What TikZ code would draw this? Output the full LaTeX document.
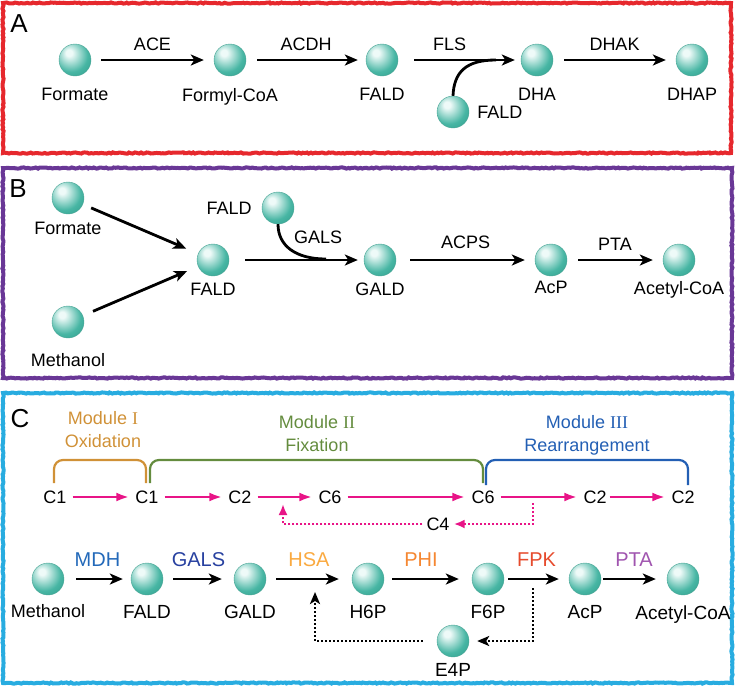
\documentclass[tikz,border=0pt]{standalone}
\usepackage{fontspec}
\setmainfont{Liberation Sans}
\newfontfamily\romfont{Liberation Serif}
\usetikzlibrary{positioning, arrows.meta, decorations.pathmorphing}

\definecolor{ballhi}{RGB}{238,250,248}
\definecolor{ballmid}{RGB}{72,182,164}
\definecolor{balledge}{RGB}{30,142,124}
\definecolor{boxA}{RGB}{230,40,45}
\definecolor{boxB}{RGB}{105,55,150}
\definecolor{boxC}{RGB}{40,172,224}
\definecolor{pinkarr}{RGB}{232,20,135}
\definecolor{colI}{RGB}{208,145,55}
\definecolor{colII}{RGB}{100,140,62}
\definecolor{colIII}{RGB}{35,95,180}
\definecolor{enzMDH}{RGB}{35,105,185}
\definecolor{enzGALS}{RGB}{40,65,160}
\definecolor{enzHSA}{RGB}{250,170,65}
\definecolor{enzPHI}{RGB}{245,135,50}
\definecolor{enzFPK}{RGB}{230,75,45}
\definecolor{enzPTA}{RGB}{160,85,175}
\pgfdeclareradialshading{tealball}{\pgfpoint{-10bp}{12bp}}{color(0bp)=(ballhi); color(5bp)=(ballhi); color(26bp)=(ballmid); color(50bp)=(balledge); color(70bp)=(balledge)}

\tikzset{>={Stealth[length=13pt,width=11pt,inset=3.5pt]},
ball/.style={circle, minimum size=32pt, inner sep=0pt, shading=tealball, draw=balledge!80, line width=0.4pt},
lbl/.style={inner sep=0pt, font=\fontsize{18}{20}\selectfont},
lblc/.style={inner sep=0pt, font=\fontsize{19}{21}\selectfont},
enz/.style={inner sep=0pt, above=8pt, font=\fontsize{18}{20}\selectfont},
enzc/.style={inner sep=0pt, above=11pt, font=\fontsize{20}{22}\selectfont},
tag/.style={inner sep=0pt, font=\fontsize{26}{28}\selectfont},
crow/.style={inner sep=6pt, font=\fontsize{18}{20}\selectfont},
modlbl/.style={align=center, inner sep=0pt, font=\fontsize{18}{23}\selectfont},
panel/.style={line width=4pt, decorate, decoration={random steps, segment length=2pt, amplitude=0.6pt}},
arr/.style={->, line width=2.8pt, shorten <=11pt, shorten >=8pt},
curve/.style={line width=2.8pt},
brk/.style={line width=2.2pt, rounded corners=9pt},
parr/.style={-{Latex[length=13pt,width=9pt]}, pinkarr, line width=2.6pt},
pdot/.style={-{Latex[length=11pt,width=9pt]}, pinkarr, line width=2.6pt, dash pattern=on 2pt off 2pt},
bdot/.style={-{Stealth[length=12pt,width=10pt,inset=3pt]}, line width=2.6pt, dash pattern=on 2pt off 2pt}
}

\begin{document}
\begin{tikzpicture}[x=1pt, y=-1pt]
\useasboundingbox (0,0) rectangle (735,686);

% panel A
\draw[panel, boxA] (3,3) rectangle (731,153);
\node[tag] (tA) at (19,24) {A};
\node[ball] (formA) at (75,60) {};
\node[ball] (fcoaA) at (230,60) {};
\node[ball] (faldA) at (382,60) {};
\node[ball] (dhaA) at (537,60) {};
\node[ball] (dhapA) at (692,60) {};
\node[ball] (fald2A) at (453,112) {};
\node[lbl, below=12pt of formA] (lformA) {Formate};
\node[lbl, below=12pt of fcoaA] (lfcoaA) {Formyl-CoA};
\node[lbl, below=12pt of faldA] (lfaldA) {FALD};
\node[lbl, below=12pt of dhaA] (ldhaA) {DHA};
\node[lbl, below=12pt of dhapA] (ldhapA) {DHAP};
\node[lbl, right=8pt of fald2A] (lfald2A) {FALD};
\coordinate (jA) at (496,60);
\draw[arr, shorten <=10pt, shorten >=10pt] (formA) -- node[enz]{ACE} (fcoaA);
\draw[arr] (fcoaA) -- node[enz]{ACDH} (faldA);
\draw[arr, shorten <=16pt, shorten >=6pt] (faldA) -- node[enz, pos=0.42]{FLS} (dhaA);
\draw[arr, shorten >=10pt] (dhaA) -- node[enz]{DHAK} (dhapA);
\draw[curve] (fald2A.north) .. controls (454,72) and (466,60) .. (jA);

% panel B
\draw[panel, boxB] (3,168) rectangle (732,378);
\node[tag] (tB) at (18,189) {B};
\node[ball] (formB) at (68,198) {};
\node[ball] (methB) at (68,322) {};
\node[ball] (faldB) at (213,260) {};
\node[ball] (fald2B) at (278,208) {};
\node[ball] (galdB) at (380,260) {};
\node[ball] (acpB) at (551,260) {};
\node[ball] (accoaB) at (679,260) {};
\node[lbl, below=8pt of formB] (lformB) {Formate};
\node[lbl, below=15pt of methB] (lmethB) {Methanol};
\node[lbl, below=7pt of faldB] (lfaldB) {FALD};
\node[lbl, below=7pt of galdB] (lgaldB) {GALD};
\node[lbl, below=5pt of acpB] (lacpB) {AcP};
\node[lbl, below=5pt of accoaB] (laccoaB) {Acetyl-CoA};
\node[lbl, left=10pt of fald2B] (lfald2B) {FALD};
\coordinate (jB) at (326,259);
\draw[arr, shorten <=9pt, shorten >=13pt] (formB) -- (faldB);
\draw[arr, shorten <=11pt, shorten >=12pt] (methB) -- (faldB);
\draw[arr, shorten <=16pt, shorten >=6pt] (faldB) -- node[enz, pos=0.66, above=15pt]{GALS} (galdB);
\draw[curve] (fald2B.south) .. controls (278,246) and (296,259) .. (jB);
\draw[arr, shorten <=14pt, shorten >=10pt] (galdB) -- node[enz, above=10pt]{ACPS} (acpB);
\draw[arr, shorten >=10pt] (acpB) -- node[enz]{PTA} (accoaB);

% panel C, modules
\draw[panel, boxC] (3,393) rectangle (732,683);
\node[tag] (tC) at (20,419) {C};
\node[modlbl, colI] (mod1) at (103,430) {Module {\romfont I}\\Oxidation};
\node[modlbl, colII] (mod2) at (317,434) {Module {\romfont II}\\Fixation};
\node[modlbl, colIII] (mod3) at (587,435) {Module {\romfont III}\\Rearrangement};
\draw[brk, colI] (54,483) -- (54,460) -- (146,460) -- (146,483);
\draw[brk, colII] (150,483) -- (150,460) -- (483,460) -- (483,483);
\draw[brk, colIII] (486,485) -- (486,460) -- (688,460) -- (688,485);
\node[crow] (c1a) at (55,497) {C1};
\node[crow] (c1b) at (147,497) {C1};
\node[crow] (c2a) at (240,497) {C2};
\node[crow] (c6a) at (330,497) {C6};
\node[crow] (c6b) at (483,497) {C6};
\node[crow] (c2b) at (595,497) {C2};
\node[crow] (c2c) at (683,497) {C2};
\node[crow, inner sep=4pt] (c4) at (438,524) {C4};
\draw[parr] (c1a) -- (c1b);
\draw[parr] (c1b) -- (c2a);
\draw[parr] (c2a) -- (c6a);
\draw[parr] (c6a) -- (c6b);
\draw[parr] (c6b) -- (c2b);
\draw[parr, shorten <=-3pt] (c2b) -- (c2c);
\coordinate (pd1) at (533,503);
\coordinate (pd2) at (283,504);
\draw[pdot] (pd1) |- (c4);
\draw[pdot] (c4) -| (pd2);

% panel C, pathway
\node[ball] (methC) at (48,579) {};
\node[ball] (faldC) at (147,579) {};
\node[ball] (galdC) at (250,579) {};
\node[ball] (h6pC) at (368,579) {};
\node[ball] (f6pC) at (488,579) {};
\node[ball] (acpC) at (585,579) {};
\node[ball] (accoaC) at (683,579) {};
\node[ball] (e4pC) at (453,641) {};
\node[lbl, below=9pt of methC] (lmethC) {Methanol};
\node[lblc, below=10pt of faldC] (lfaldC) {FALD};
\node[lblc, below=10pt of galdC] (lgaldC) {GALD};
\node[lblc, below=10pt of h6pC] (lh6pC) {H6P};
\node[lblc, below=10pt of f6pC] (lf6pC) {F6P};
\node[lblc, below=10pt of acpC] (lacpC) {AcP};
\node[lblc, below=10pt of accoaC] (laccoaC) {Acetyl-CoA};
\node[lblc, below=6pt of e4pC] (le4pC) {E4P};
\draw[arr, shorten <=12pt, shorten >=8pt] (methC) -- node[enzc, enzMDH]{MDH} (faldC);
\draw[arr, shorten <=10pt, shorten >=12pt] (faldC) -- node[enzc, enzGALS]{GALS} (galdC);
\draw[arr, shorten <=10pt, shorten >=13pt] (galdC) -- node[enzc, enzHSA]{HSA} (h6pC);
\draw[arr, shorten <=8pt, shorten >=13pt] (h6pC) -- node[enzc, enzPHI, pos=0.42]{PHI} (f6pC);
\draw[arr, shorten <=4pt, shorten >=10pt] (f6pC) -- node[enzc, enzFPK]{FPK} (acpC);
\draw[arr, shorten <=2pt, shorten >=11pt] (acpC) -- node[enzc, enzPTA]{PTA} (accoaC);
\coordinate (bd1) at (533,588);
\coordinate (bd2) at (315,592);
\draw[bdot, shorten >=8pt] (bd1) |- (e4pC);
\draw[bdot, shorten <=14pt] (e4pC) -| (bd2);
\end{tikzpicture}
\end{document}
